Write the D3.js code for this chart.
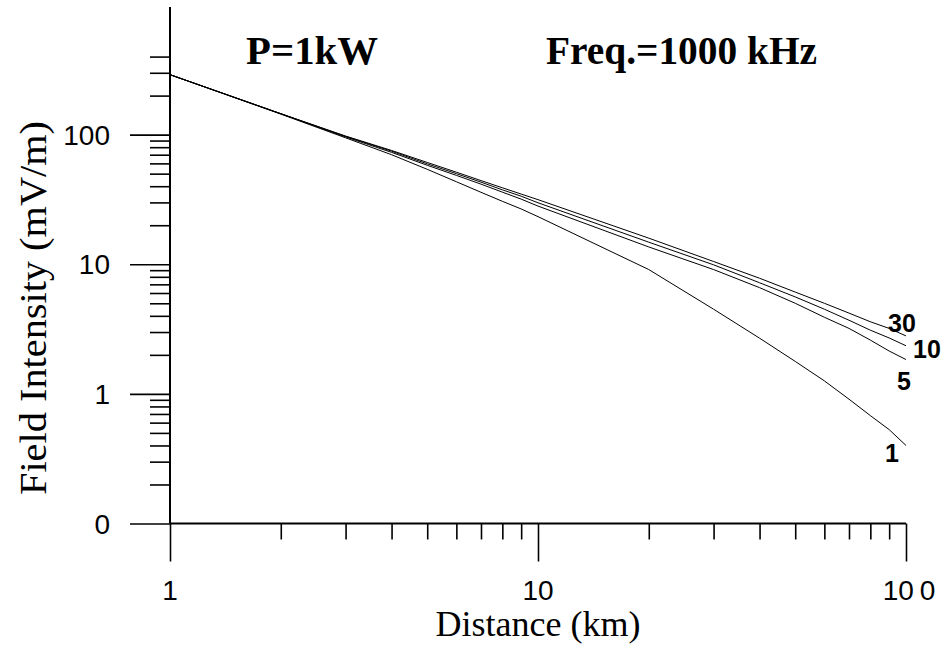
<!DOCTYPE html>
<html>
<head>
<meta charset="utf-8">
<script src="https://cdn.jsdelivr.net/npm/d3@7"></script>
<style>
  body { margin: 0; background: #fff; }
  svg { display: block; }
</style>
</head>
<body>
<svg id="chart" width="943" height="651"></svg>
<script>
//
// FIELD INTENSITY vs DISTANCE (log-log)
//

var distances = [1, 2, 3, 4, 5, 6, 7, 8, 9, 10, 20, 30, 40, 50, 60, 70, 80, 90, 100];

var field30 = [290, 145, 97.5, 75.5, 61, 51.3, 44.2, 38.9, 34.8, 31.5, 15.9, 10.5, 7.8, 6.1, 5.0, 4.2, 3.6, 3.2, 2.8],
    field10 = [290, 145, 97, 74.5, 59.5, 50, 43, 37.5, 33.5, 29.8, 14.8, 9.9, 7.2, 5.6, 4.5, 3.7, 3.1, 2.7, 2.35],
    field5  = [290, 145, 96, 73, 58, 48.5, 41.5, 36, 31.8, 28.1, 13.6, 9.1, 6.6, 5.0, 3.9, 3.2, 2.6, 2.14, 1.84],
    field1  = [290, 144, 94.5, 70, 54, 43.3, 35.9, 30.6, 26.7, 23.3, 9.1, 4.5, 2.69, 1.78, 1.26, 0.91, 0.68, 0.53, 0.40];

var seriesNames = ["30", "10", "5", "1"],
    seriesValues = [field30, field10, field5, field1];

var xMajor = [1, 10, 100],
    xMajorLabels = ["1", "10", "100"],
    yMajor = [0.1, 1, 10, 100],
    yMajorLabels = ["0", "1", "10", "100"],
    yTopMinor = [200, 300, 400];

var chart = d3.select("#chart");

var x = d3.scaleLog().domain([1, 100]).range([170, 906]),
    y = d3.scaleLog().domain([0.1, 1000]).range([523.5, 5]);

// minor ticks
var xMinor = [];
[1, 10].forEach(function(p) { for (var i = 2; i <= 9; i++) xMinor.push(i * p); });
var yMinor = [];
[0.1, 1, 10].forEach(function(p) { for (var i = 2; i <= 9; i++) yMinor.push(i * p); });
yMinor = yMinor.concat(yTopMinor);

// axes
var xAxisMajor = d3.axisBottom(x).tickValues(xMajor).tickSize(38).tickFormat(""),
    xAxisMinor = d3.axisBottom(x).tickValues(xMinor).tickSize(16).tickFormat(""),
    yAxisMajor = d3.axisLeft(y).tickValues(yMajor).tickSize(40).tickFormat(""),
    yAxisMinor = d3.axisLeft(y).tickValues(yMinor).tickSize(20).tickFormat("");

chart.append("g").attr("class", "axis").attr("transform", "translate(0," + y(0.1) + ")").call(xAxisMajor);
chart.append("g").attr("class", "axis").attr("transform", "translate(0," + y(0.1) + ")").call(xAxisMinor);
chart.append("g").attr("class", "axis").attr("transform", "translate(" + x(1) + ",0)").call(yAxisMajor);
chart.append("g").attr("class", "axis").attr("transform", "translate(" + x(1) + ",0)").call(yAxisMinor);

chart.selectAll(".axis line").attr("stroke", "#000").attr("stroke-width", 1.6);
chart.selectAll(".axis .domain").remove();

// axis lines
chart.append("line")
    .attr("x1", x(1)).attr("x2", x(1))
    .attr("y1", y(1000) + 2).attr("y2", y(0.1))
    .attr("stroke", "#000").attr("stroke-width", 2);
chart.append("line")
    .attr("x1", x(1)).attr("x2", x(100))
    .attr("y1", y(0.1)).attr("y2", y(0.1))
    .attr("stroke", "#000").attr("stroke-width", 2);

// tick labels
chart.selectAll(".ylab")
    .data(yMajor)
  .enter().append("text")
    .attr("class", "ylab")
    .attr("x", 110)
    .attr("y", function(d) { return y(d) + 10; })
    .attr("text-anchor", "end")
    .style("font", "28px 'Liberation Sans', Arial, sans-serif")
    .text(function(d, i) { return yMajorLabels[i]; });

var xl = chart.selectAll(".xlab")
    .data(xMajor)
  .enter().append("text")
    .attr("class", "xlab")
    .attr("x", function(d) { return x(d); })
    .attr("y", 600)
    .attr("text-anchor", "middle")
    .style("font", "28px 'Liberation Sans', Arial, sans-serif");
xl.filter(function(d) { return d < 100; }).text(function(d) { return xMajorLabels[xMajor.indexOf(d)]; });
xl.filter(function(d) { return d === 100; })
    .attr("x", x(100) + 3)
    .call(function(t) {
      t.append("tspan").text("10");
      t.append("tspan").attr("dx", 6).text("0");
    });

// curves
var line = d3.line()
    .x(function(d) { return x(d[0]); })
    .y(function(d) { return y(d[1]); });

chart.selectAll(".curve")
    .data(seriesValues)
  .enter().append("path")
    .attr("class", "curve")
    .attr("d", function(vals) { return line(distances.map(function(d, i) { return [d, vals[i]]; })); })
    .attr("fill", "none")
    .attr("stroke", "#000")
    .attr("stroke-width", 1);

// curve labels
var labelOffsets = [[-18, -4], [7, 12], [-9, 30], [-21, 17]];
chart.selectAll(".clab")
    .data(seriesNames)
  .enter().append("text")
    .attr("class", "clab")
    .attr("x", function(d, i) { return x(100) + labelOffsets[i][0]; })
    .attr("y", function(d, i) { return y(seriesValues[i][distances.length - 1]) + labelOffsets[i][1]; })
    .style("font", "bold 25px 'Liberation Sans', Arial, sans-serif")
    .text(function(d) { return d; });

// titles
chart.append("text")
    .attr("x", 246).attr("y", 64)
    .attr("textLength", 132).attr("lengthAdjust", "spacingAndGlyphs")
    .style("font", "bold 40px 'Liberation Serif', 'Times New Roman', serif")
    .text("P=1kW");
chart.append("text")
    .attr("x", 546).attr("y", 64)
    .attr("textLength", 271).attr("lengthAdjust", "spacingAndGlyphs")
    .style("font", "bold 40px 'Liberation Serif', 'Times New Roman', serif")
    .text("Freq.=1000 kHz");

chart.append("text")
    .attr("x", 538).attr("y", 636)
    .attr("text-anchor", "middle")
    .style("font", "36px 'Liberation Serif', 'Times New Roman', serif")
    .text("Distance (km)");

chart.append("text")
    .attr("transform", "translate(46,308) rotate(-90)")
    .attr("text-anchor", "middle")
    .attr("textLength", 374).attr("lengthAdjust", "spacingAndGlyphs")
    .style("font", "38px 'Liberation Serif', 'Times New Roman', serif")
    .text("Field Intensity (mV/m)");
</script>
</body>
</html>
